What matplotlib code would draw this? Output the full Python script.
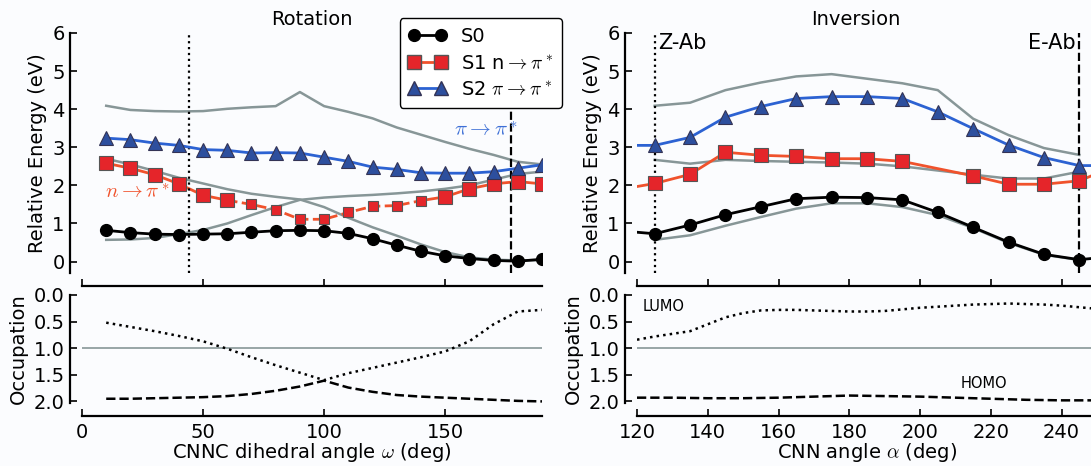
import matplotlib.pyplot as plt

plt.rcParams['font.family'] = ['DejaVu Sans']
plt.rcParams['mathtext.fontset'] = 'cm'
plt.rcParams['font.size'] = 14

# === Rotation (CNNC dihedral) ===
rot_angle = [10, 20, 30, 40, 50, 60, 70, 80, 90, 100, 110, 120, 130, 140, 150, 160, 170, 180, 190]
rot_s0 = [0.82, 0.76, 0.72, 0.71, 0.72, 0.73, 0.77, 0.81, 0.82, 0.81, 0.74, 0.60, 0.43, 0.27, 0.15, 0.08, 0.03, 0.01, 0.06]
rot_s1 = [2.58, 2.45, 2.28, 2.04, 1.74, 1.61, 1.50, 1.36, 1.11, 1.11, 1.29, 1.45, 1.47, 1.60, 1.70, 1.91, 2.04, 2.10, 2.04]
rot_s2 = [3.24, 3.20, 3.11, 3.05, 2.94, 2.92, 2.85, 2.86, 2.85, 2.74, 2.63, 2.48, 2.42, 2.33, 2.32, 2.32, 2.36, 2.45, 2.54]
rot_gray_top = [4.09, 3.98, 3.95, 3.94, 3.95, 4.01, 4.05, 4.08, 4.45, 4.08, 3.93, 3.76, 3.52, 3.33, 3.14, 2.96, 2.80, 2.62, 2.55]
rot_gray_down = [2.70, 2.55, 2.38, 2.20, 2.05, 1.90, 1.78, 1.70, 1.63, 1.43, 1.15, 0.90, 0.68, 0.45, 0.25, 0.11, 0.05, 0.03, 0.04]
rot_gray_up = [0.57, 0.58, 0.62, 0.72, 0.83, 1.00, 1.22, 1.43, 1.62, 1.68, 1.72, 1.75, 1.79, 1.84, 1.91, 2.00, 2.15, 2.30, 2.36]
rot_lumo = [0.52, 0.60, 0.68, 0.77, 0.87, 1.01, 1.17, 1.32, 1.46, 1.60, 1.47, 1.37, 1.27, 1.17, 1.06, 0.87, 0.55, 0.31, 0.28]
rot_homo = [1.95, 1.95, 1.94, 1.93, 1.92, 1.90, 1.86, 1.80, 1.72, 1.61, 1.74, 1.82, 1.88, 1.91, 1.93, 1.95, 1.97, 1.99, 2.00]
rot_marks = [44, 177]

# === Inversion (CNN angle) ===
inv_angle = [115, 125, 135, 145, 155, 165, 175, 185, 195, 205, 215, 225, 235, 245, 255]
inv_s0 = [0.81, 0.73, 0.96, 1.23, 1.44, 1.65, 1.69, 1.68, 1.62, 1.29, 0.90, 0.51, 0.19, 0.05, 0.14]
inv_s2 = [3.05, 3.05, 3.26, 3.79, 4.07, 4.28, 4.33, 4.33, 4.28, 3.93, 3.49, 3.06, 2.73, 2.52, 2.52]
inv_s1_angle = [115, 125, 135, 145, 155, 165, 175, 185, 195, 215, 225, 235, 245, 255]
inv_s1 = [1.89, 2.05, 2.29, 2.87, 2.79, 2.76, 2.70, 2.70, 2.63, 2.25, 2.03, 2.03, 2.12, 2.50]
inv_gray_angle = [125, 135, 145, 155, 165, 175, 185, 195, 205, 215, 225, 235, 245]
inv_gray_top = [4.09, 4.17, 4.50, 4.70, 4.86, 4.92, 4.80, 4.68, 4.50, 3.75, 3.32, 2.98, 2.80]
inv_gray_mid = [2.67, 2.57, 2.67, 2.64, 2.62, 2.60, 2.57, 2.50, 2.39, 2.28, 2.18, 2.18, 2.36]
inv_gray_low = [0.57, 0.69, 0.94, 1.17, 1.39, 1.53, 1.53, 1.43, 1.22, 0.88, 0.49, 0.18, 0.04]
inv_occ_angle = [120, 125, 130, 135, 140, 145, 150, 155, 160, 165, 170, 175, 180, 185,
                 190, 195, 200, 205, 210, 215, 220, 225, 230, 235, 240, 245, 250]
inv_lumo = [0.84, 0.78, 0.73, 0.68, 0.55, 0.42, 0.34, 0.29, 0.28, 0.28, 0.29, 0.30, 0.31, 0.31,
            0.30, 0.27, 0.24, 0.22, 0.20, 0.18, 0.17, 0.16, 0.17, 0.18, 0.20, 0.23, 0.26]
inv_homo_angle = [120, 130, 140, 150, 160, 170, 180, 190, 200, 210, 220, 230, 240, 250]
inv_homo = [1.93, 1.93, 1.94, 1.94, 1.93, 1.91, 1.89, 1.90, 1.91, 1.93, 1.95, 1.97, 1.98, 1.98]
inv_marks = [125, 245]

GRAY = '#879697'
RED_LINE = '#f0522c'
RED_FACE = '#e5252a'
BLUE_LINE = '#2c62d2'
BLUE_FACE = '#2d4f9e'


def style_axes(ax):
    for side in ['top', 'right']:
        ax.spines[side].set_visible(False)
    for side in ['left', 'bottom']:
        ax.spines[side].set_position(('outward', 9))
        ax.spines[side].set_linewidth(1.6)
    ax.tick_params(direction='in', length=5, width=1.2, labelsize=14)
    ax.tick_params(axis='x', pad=5.5)
    ax.set_facecolor('none')


fig = plt.figure(figsize=(10.91, 4.66), dpi=100)
fig.patch.set_facecolor('#fbfcfe')

W = 460 / 1091
ax_rot = fig.add_axes([82 / 1091, 193 / 466, W, 240 / 466])
ax_rot_occ = fig.add_axes([82 / 1091, 63 / 466, W, 108 / 466])
ax_inv = fig.add_axes([637 / 1091, 193 / 466, W, 240 / 466])
ax_inv_occ = fig.add_axes([637 / 1091, 63 / 466, W, 108 / 466])

# --- rotation energies ---
ax = ax_rot
for g in [rot_gray_top, rot_gray_down, rot_gray_up]:
    ax.plot(rot_angle, g, color=GRAY, lw=1.8, zorder=1)
ax.plot(rot_angle, rot_s0, '-o', color='black', ms=8.5, lw=2, zorder=3)
ax.plot(rot_angle[:6], rot_s1[:6], '-', color=RED_LINE, lw=2, zorder=2)
ax.plot(rot_angle[5:14], rot_s1[5:14], '--', color=RED_LINE, lw=2, zorder=2)
ax.plot(rot_angle[13:], rot_s1[13:], '-', color=RED_LINE, lw=2, zorder=2)
big = [i for i in range(len(rot_angle)) if i < 6 or i > 13]
small = [i for i in range(len(rot_angle)) if 6 <= i <= 13]
ax.plot([rot_angle[i] for i in big], [rot_s1[i] for i in big], 's', ms=9.5,
        mfc=RED_FACE, mec='#555555', mew=0.8, zorder=3)
ax.plot([rot_angle[i] for i in small], [rot_s1[i] for i in small], 's', ms=6.5,
        mfc=RED_FACE, mec='#555555', mew=0.8, zorder=3)
ax.plot(rot_angle, rot_s2, '-^', color=BLUE_LINE, ms=9.5, mfc=BLUE_FACE, mec='#333355',
        mew=0.8, lw=2, zorder=3)
ax.axvline(rot_marks[0], color='black', ls=':', lw=1.6)
ax.axvline(rot_marks[1], color='black', ls='--', lw=1.6)
ax.text(23, 1.83, r'$n\rightarrow\pi^*$', color=RED_LINE, fontsize=15, ha='center', va='center')
ax.text(167, 3.46, r'$\pi\rightarrow\pi^*$', color='#3d6fd6', fontsize=15, ha='center', va='center')
ax.set_xlim(0, 190)
ax.set_ylim(-0.3, 6)
ax.set_xticks([0, 50, 100, 150])
ax.set_xticklabels([])
ax.set_yticks([0, 1, 2, 3, 4, 5, 6])
ax.set_ylabel('Relative Energy (eV)')
ax.set_title('Rotation', fontsize=14, pad=6)
style_axes(ax)

# legend built from proxy handles
h0, = ax.plot([], [], '-o', color='black', ms=8.5, lw=2)
h1, = ax.plot([], [], '-s', color=RED_LINE, ms=9.5, mfc=RED_FACE, mec='#555555', lw=2)
h2, = ax.plot([], [], '-^', color=BLUE_LINE, ms=9.5, mfc=BLUE_FACE, mec='#333355', lw=2)
leg = fig.legend([h0, h1, h2], ['S0', r'S1 n$\rightarrow\pi^*$', r'S2 $\pi\rightarrow\pi^*$'],
                 loc='upper right', bbox_to_anchor=(562 / 1091, 1 - 18 / 466),
                 numpoints=2, handlelength=2.0, fontsize=14, fancybox=True,
                 borderpad=0.45, labelspacing=0.4, handletextpad=0.7, borderaxespad=0)
leg.get_frame().set_edgecolor('black')
leg.get_frame().set_linewidth(1.0)
leg.get_frame().set_alpha(1)

# --- rotation occupation ---
ax = ax_rot_occ
ax.axhline(1.0, color=GRAY, lw=1.2)
ax.plot(rot_angle, rot_lumo, ':', color='black', lw=1.8)
ax.plot(rot_angle, rot_homo, '--', color='black', lw=1.8)
ax.set_xlim(0, 190)
ax.set_ylim(2.03, 0.0)
ax.set_xticks([0, 50, 100, 150])
ax.set_yticks([0.0, 0.5, 1.0, 1.5, 2.0])
ax.set_yticklabels(['0.0', '0.5', '1.0', '1.5', '2.0'])
ax.set_ylabel('Occupation')
ax.set_xlabel(r'CNNC dihedral angle $\omega$ (deg)', labelpad=-1)
style_axes(ax)

# --- inversion energies ---
ax = ax_inv
for g in [inv_gray_top, inv_gray_mid, inv_gray_low]:
    ax.plot(inv_gray_angle, g, color=GRAY, lw=1.8, zorder=1)
ax.plot(inv_angle, inv_s0, '-o', color='black', ms=8.5, lw=2, zorder=3)
ax.plot(inv_s1_angle, inv_s1, '-s', color=RED_LINE, ms=9.5, mfc=RED_FACE, mec='#555555',
        mew=0.8, lw=2, zorder=3)
ax.plot(inv_angle, inv_s2, '-^', color=BLUE_LINE, ms=9.5, mfc=BLUE_FACE, mec='#333355',
        mew=0.8, lw=2, zorder=3)
ax.axvline(inv_marks[0], color='black', ls=':', lw=1.6)
ax.axvline(inv_marks[1], color='black', ls='--', lw=1.6)
ax.text(126, 5.75, 'Z-Ab', fontsize=15, ha='left', va='center')
ax.text(244, 5.75, 'E-Ab', fontsize=15, ha='right', va='center')
ax.set_xlim(120, 250)
ax.set_ylim(-0.3, 6)
ax.set_xticks([120, 140, 160, 180, 200, 220, 240])
ax.set_xticklabels([])
ax.set_yticks([0, 1, 2, 3, 4, 5, 6])
ax.set_ylabel('Relative Energy (eV)')
ax.set_title('Inversion', fontsize=14, pad=6, x=0.475)
style_axes(ax)

# --- inversion occupation ---
ax = ax_inv_occ
ax.axhline(1.0, color=GRAY, lw=1.2)
ax.plot(inv_occ_angle, inv_lumo, ':', color='black', lw=1.8)
ax.plot(inv_homo_angle, inv_homo, '--', color='black', lw=1.8)
ax.text(121.5, 0.21, 'LUMO', fontsize=10.5, ha='left', va='center')
ax.text(218, 1.66, 'HOMO', fontsize=10.5, ha='center', va='center')
ax.set_xlim(120, 250)
ax.set_ylim(2.03, 0.0)
ax.set_xticks([120, 140, 160, 180, 200, 220, 240])
ax.set_yticks([0.0, 0.5, 1.0, 1.5, 2.0])
ax.set_yticklabels(['0.0', '0.5', '1.0', '1.5', '2.0'])
ax.set_ylabel('Occupation')
ax.set_xlabel(r'CNN angle $\alpha$ (deg)', labelpad=-1)
style_axes(ax)

fig.savefig('out.png', dpi=100, facecolor=fig.get_facecolor())
